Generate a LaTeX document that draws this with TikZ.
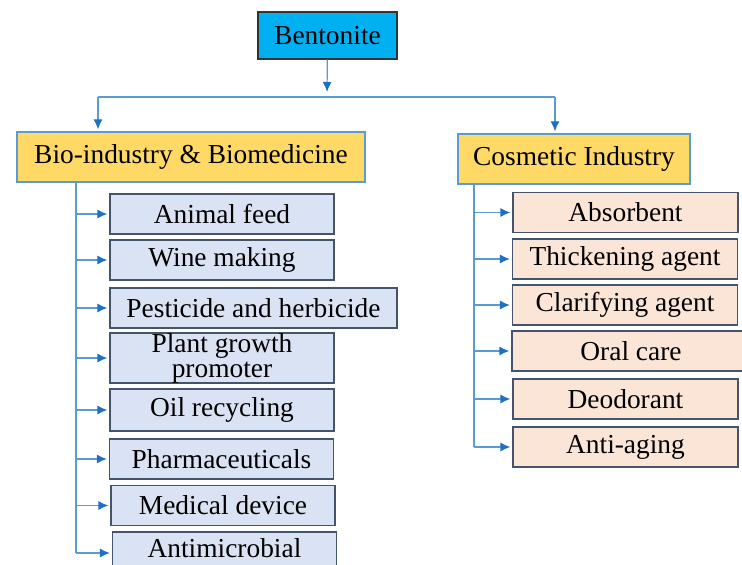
\documentclass[tikz,border=0pt]{standalone}
\usepackage{fontspec}
\setmainfont{Liberation Serif}
\usetikzlibrary{arrows.meta,positioning}
\definecolor{bentblue}{HTML}{00B0F0}
\definecolor{headyellow}{HTML}{FFD966}
\definecolor{bioblue}{HTML}{DAE3F3}
\definecolor{cospink}{HTML}{FBE5D6}
\definecolor{boxedge}{HTML}{44546A}
\definecolor{linkblue}{HTML}{5B9BD5}
\definecolor{tipblue}{HTML}{1F6FC5}

\tikzset{
  box/.style={draw=boxedge, line width=0.6pt, minimum height=20pt, inner sep=0pt,
    font=\fontsize{13.7}{14}\selectfont},
  bio/.style={box, fill=bioblue, minimum width=112pt},
  cos/.style={box, fill=cospink, minimum width=112.5pt},
  head/.style={box, draw=linkblue, fill=headyellow, minimum height=25pt},
  link/.style={draw=linkblue, line width=0.6pt},
  linkarr/.style={link, shorten >=1pt, -{Latex[length=5pt,width=4.5pt,color=tipblue]}}
}

\begin{document}
\begin{tikzpicture}[x=0.5pt,y=-0.5pt]
\useasboundingbox (0,0) rectangle (742,565);

% top level
\node[box, fill=bentblue, draw=black!80, minimum width=69.5pt, minimum height=23.5pt] (bent) at (327.5,35.5) {Bentonite};
\node[head, minimum width=174pt] (bio) at (191,157) {Bio-industry \& Biomedicine};
\node[head, minimum width=116pt] (cos) at (574,159) {Cosmetic Industry};

\coordinate (split) at (327,97);
\coordinate (lbranch) at (98,97);
\coordinate (rbranch) at (555,97);
\draw[linkarr, shorten >=2.5pt] (bent) -- (split);
\draw[link] (lbranch) -- (rbranch);
\draw[linkarr] (lbranch) -- (lbranch |- bio.north);
\draw[linkarr] (rbranch) -- (rbranch |- cos.north);

% bio-industry and biomedicine
\node[bio] (feed) at (222,214) {Animal feed};
\node[bio] (wine) at (222,260) {Wine making};
\node[bio, minimum width=143.5pt] (pest) at (253.5,308) {Pesticide and herbicide};
\node[bio, minimum height=25pt, align=center, font=\fontsize{13.7}{12.5}\selectfont] (plant) at (222,358) {Plant growth\\promoter};
\node[bio, minimum height=21pt] (oil) at (222,410) {Oil recycling};
\node[bio] (pharma) at (221.5,459) {Pharmaceuticals};
\node[bio] (medic) at (223,505.5) {Medical device};
\node[bio, minimum height=21pt, text depth=5pt] (antimic) at (224.5,553) {Antimicrobial};

\coordinate (lx) at (76,0);
\draw[link] (bio.south -| lx) -- (antimic.west -| lx);
\foreach \n in {feed,wine,pest,plant,oil,pharma,medic,antimic}
  \draw[linkarr] (\n.west -| lx) -- (\n.west);

% cosmetic industry
\node[cos] (absorb) at (625.5,212.5) {Absorbent};
\node[cos] (thick) at (625,259) {Thickening agent};
\node[cos] (clarif) at (625,305) {Clarifying agent};
\node[cos, minimum width=119pt] (oral) at (631,351) {Oral care};
\node[cos] (deodor) at (625.5,399) {Deodorant};
\node[cos] (antiage) at (625.5,447) {Anti-aging};

\coordinate (rx) at (474,0);
\draw[link] (cos.south -| rx) -- (antiage.west -| rx);
\foreach \n in {absorb,thick,clarif,oral,deodor,antiage}
  \draw[linkarr] (\n.west -| rx) -- (\n.west);
\end{tikzpicture}
\end{document}
